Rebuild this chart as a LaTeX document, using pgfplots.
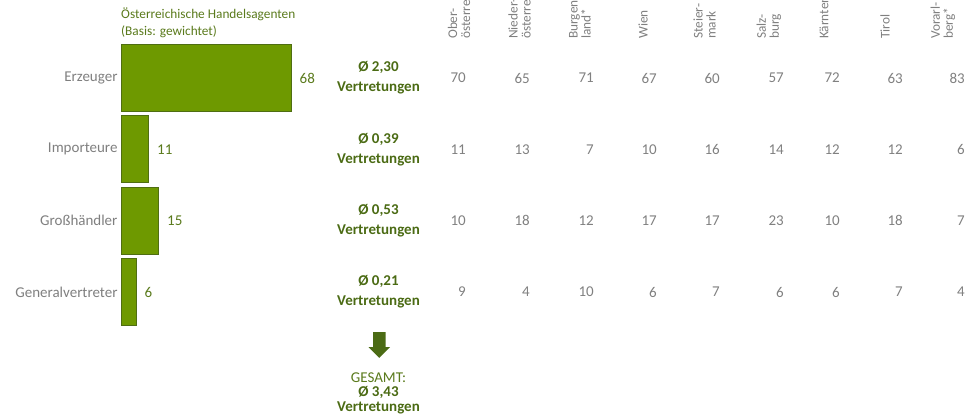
\documentclass[border=0pt]{standalone}
\usepackage{pgfplots}
\pgfplotsset{compat=1.18}
\usepackage{pgfplotstable}
\usepackage{fontspec}
\setmainfont{Carlito}
\definecolor{barfill}{HTML}{6E9900}
\definecolor{baredge}{HTML}{4F6E12}
\definecolor{numgreen}{HTML}{5A7A1C}
\definecolor{boldgreen}{HTML}{4B6B14}
\definecolor{labgrey}{HTML}{7F7F7F}
\definecolor{tabgrey}{HTML}{808080}

% regional table: x = right edge of column (data units), y = row, v = value
\pgfplotstableread{
x y v
138.0 0 70
163.6 0 65
189.2 0 71
214.4 0 67
239.6 0 60
265.2 0 57
287.6 0 72
312.8 0 63
337.6 0 83
138.0 1 11
163.6 1 13
189.2 1 7
214.4 1 10
239.6 1 16
265.2 1 14
287.6 1 12
312.8 1 12
337.6 1 6
138.0 2 10
163.6 2 18
189.2 2 12
214.4 2 17
239.6 2 17
265.2 2 23
287.6 2 10
312.8 2 18
337.6 2 7
138.0 3 9
163.6 3 4
189.2 3 10
214.4 3 6
239.6 3 7
265.2 3 6
287.6 3 6
312.8 3 7
337.6 3 4
}\regiontable

\tikzset{hdr/.style={rotate=90, anchor=west, align=left, inner sep=0pt, text=labgrey,
    font=\fontsize{13.3}{13}\selectfont}}

\begin{document}
\begin{tikzpicture}
\useasboundingbox (0,0) rectangle (969pt,417pt);
\clip (0,0) rectangle (969pt,417pt);
\begin{axis}[
  at={(121pt,0pt)}, anchor=south west,
  scale only axis, width=848pt, height=417pt,
  xmin=0, xmax=339.2, ymin=-1.0935, ymax=4.7523, y dir=reverse,
  axis x line=none,
  axis y line*=left, y axis line style={draw=none}, ytick style={draw=none},
  ytick={0,1,2,3},
  yticklabels={Erzeuger,Importeure,Großhändler,Generalvertreter},
  yticklabel style={font=\fontsize{15}{15}\selectfont, text=labgrey},
  /pgf/number format/assume math mode=true,
  clip=false,
]
% bars
\addplot[xbar, bar width=67pt, fill=barfill, draw=baredge, line width=0.8pt,
  nodes near coords,
  nodes near coords style={text=numgreen, font=\fontsize{15}{15}\selectfont, xshift=5pt}]
  coordinates {(68,0) (11,1) (15,2) (6,3)};
% average labels
\addplot[draw=none, mark=none, nodes near coords, point meta=explicit symbolic,
  nodes near coords align=center,
  nodes near coords style={anchor=center, align=center, text=boldgreen,
    font=\fontsize{15}{20}\selectfont\bfseries}]
  coordinates {(103,0) [{Ø 2,30\\Vertretungen}]
               (103,1) [{Ø 0,39\\Vertretungen}]
               (103,2) [{Ø 0,53\\Vertretungen}]
               (103,3) [{Ø 0,21\\Vertretungen}]};
% regional table
\addplot[draw=none, mark=none, nodes near coords, point meta=explicit symbolic,
  nodes near coords align=center,
  nodes near coords style={anchor=east, inner sep=0pt, text=tabgrey,
    font=\fontsize{15}{15}\selectfont}]
  table[x=x, y=y, meta=v] {\regiontable};

% column headers
\node[hdr] at (axis cs:135.2,-0.5467) {Ober-\\österreich};
\node[hdr] at (axis cs:159.4,-0.5467) {Nieder-\\österreich};
\node[hdr] at (axis cs:183.6,-0.5467) {Burgen-\\land*};
\node[hdr] at (axis cs:208.8,-0.5467) {Wien};
\node[hdr] at (axis cs:233.4,-0.5467) {Steier-\\mark};
\node[hdr] at (axis cs:259.2,-0.5467) {Salz-\\burg};
\node[hdr] at (axis cs:281.2,-0.5467) {Kärnten};
\node[hdr] at (axis cs:305.6,-0.5467) {Tirol};
\node[hdr] at (axis cs:328.8,-0.5467) {Vorarl-\\berg*};
% title
\node[anchor=north west, align=left, inner sep=0pt, text=numgreen,
  font=\fontsize{13.3}{16.5}\selectfont] at (axis cs:0,-0.981)
  {Österreichische Handelsagenten\\(Basis: gewichtet)};
% arrow
\fill[boldgreen] (axis cs:100.8,3.561) -- (axis cs:105.8,3.561) -- (axis cs:105.8,3.771)
  -- (axis cs:107.6,3.771) -- (axis cs:103.3,3.925) -- (axis cs:99.0,3.771)
  -- (axis cs:100.8,3.771) -- cycle;
% total
\node[text=numgreen, font=\fontsize{15}{15}\selectfont, inner sep=0pt]
  at (axis cs:103,4.206) {GESAMT:};
\node[text=boldgreen, font=\fontsize{15}{15}\selectfont\bfseries, inner sep=0pt]
  at (axis cs:103,4.402) {Ø 3,43};
\node[text=boldgreen, font=\fontsize{15}{15}\selectfont\bfseries, inner sep=0pt]
  at (axis cs:103,4.62) {Vertretungen};
\end{axis}
\end{tikzpicture}
\end{document}
